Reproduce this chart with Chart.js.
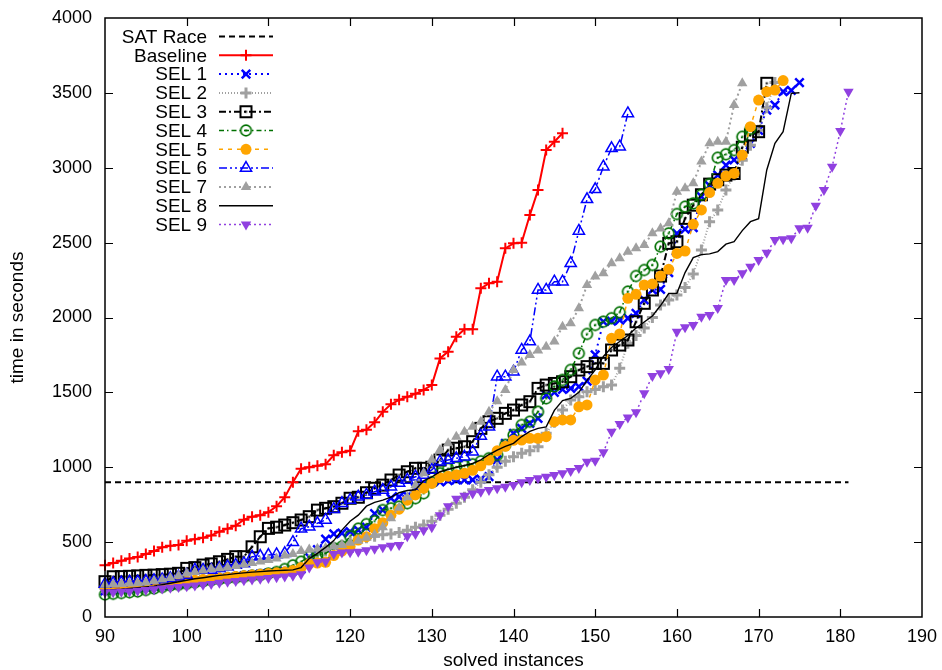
<!DOCTYPE html>
<html>
<head>
<meta charset="utf-8">
<script src="https://cdn.jsdelivr.net/npm/chart.js@4.4.0/dist/chart.umd.min.js"></script>
<style>
  html, body { margin: 0; padding: 0; background: #fff; }
  #wrap { width: 942px; height: 670px; }
</style>
</head>
<body>
<div id="wrap"><canvas id="solvedChart" width="942" height="670"></canvas></div>
<script>
(function () {
  // every series is indexed by solved instances, starting at 90
  const firstSolved = 90;
  const xRange = [90, 190];
  const xStep = 10;
  const yRange = [0, 4000];
  const yStep = 500;

  const satRaceLimit = 900;
  const satRaceSpan = [90, 181];

  const baseline = [345, 360, 375, 390, 400, 420, 440, 465, 475, 480,
    510, 520, 530, 545, 570, 590, 610, 650, 670, 680,
    700, 740, 800, 900, 990, 1000, 1010, 1020, 1080, 1100,
    1110, 1240, 1250, 1300, 1370, 1420, 1450, 1470, 1490, 1516,
    1549, 1727, 1772, 1872, 1921, 1921, 2195, 2228, 2239, 2462,
    2495, 2500, 2684, 2851, 3118, 3174, 3230];

  const sel1 = [175, 180, 185, 190, 195, 200, 205, 210, 215, 222,
    230, 238, 245, 250, 256, 262, 268, 275, 280, 287,
    293, 300, 305, 310, 320, 400, 450, 520, 555, 560,
    570, 580, 600, 690, 714, 793, 803, 810, 860, 893,
    900, 903, 910, 915, 915, 915, 920, 937, 1050, 1160,
    1227, 1260, 1293, 1327, 1483, 1500, 1520, 1527, 1538, 1575,
    1750, 1972, 1975, 1983, 1995, 2028, 2117, 2184, 2188, 2300,
    2562, 2590, 2600, 2807, 2880, 2951, 3018, 3052, 3085, 3163,
    3250, 3385, 3419, 3508, 3516, 3569];

  const sel2 = [190, 195, 200, 205, 210, 215, 220, 225, 230, 235,
    240, 245, 250, 255, 260, 265, 270, 275, 280, 285,
    290, 297, 303, 310, 330, 380, 420, 440, 460, 480,
    500, 520, 530, 540, 550, 555, 565, 580, 600, 614,
    640, 680, 720, 760, 800, 850, 900, 950, 1000, 1040,
    1070, 1093, 1110, 1137, 1227, 1300, 1382, 1449, 1470, 1505,
    1520, 1538, 1549, 1661, 1828, 1880, 1930, 2000, 2084, 2117,
    2150, 2200, 2290, 2451, 2640, 2718, 2851, 2950, 3050, 3150,
    3250, 3400, 3569];

  const sel3 = [236, 269, 270, 272, 275, 278, 280, 283, 286, 292,
    325, 330, 347, 355, 369, 385, 403, 403, 469, 536,
    592, 600, 614, 630, 648, 670, 714, 726, 737, 760,
    793, 800, 830, 860, 881, 915, 948, 970, 993, 993,
    1000, 1048, 1115, 1127, 1137, 1171, 1260, 1304, 1327, 1360,
    1382, 1416, 1438, 1527, 1549, 1560, 1571, 1605, 1649, 1672,
    1694, 1694, 1783, 1816, 1850, 1972, 2095, 2184, 2277, 2495,
    2506, 2662, 2750, 2820, 2891, 2920, 2951, 2962, 3137, 3219,
    3241, 3564];

  const sel4 = [150, 155, 160, 165, 170, 180, 190, 200, 210, 215,
    222, 230, 238, 245, 252, 258, 262, 268, 275, 280,
    290, 300, 320, 345, 369, 403, 414, 425, 459, 470,
    540, 590, 620, 640, 714, 726, 737, 760, 793, 826,
    900, 960, 990, 1000, 1010, 1020, 1040, 1060, 1082, 1149,
    1215, 1282, 1304, 1371, 1460, 1540, 1583, 1650, 1761, 1890,
    1950, 1972, 1995, 2035, 2173, 2277, 2317, 2351, 2473, 2562,
    2691, 2740, 2762, 2820, 2891, 3067, 3090, 3118, 3207, 3260];

  const sel5 = [200, 205, 210, 212, 215, 218, 222, 226, 230, 235,
    240, 245, 250, 255, 260, 265, 270, 275, 280, 285,
    290, 295, 300, 310, 330, 355, 360, 365, 410, 440,
    470, 514, 536, 590, 630, 680, 720, 780, 815, 859,
    893, 930, 940, 950, 960, 980, 1010, 1048, 1110, 1140,
    1180, 1182, 1193, 1193, 1204, 1304, 1316, 1316, 1404, 1416,
    1583, 1616, 1861, 1890, 2128, 2155, 2217, 2224, 2277, 2322,
    2428, 2444, 2622, 2718, 2834, 2896, 2945, 2962, 3085, 3274,
    3452, 3508, 3519, 3582];

  const sel6 = [220, 225, 230, 236, 236, 240, 245, 250, 258, 268,
    280, 314, 314, 314, 325, 336, 347, 358, 403, 407,
    414, 418, 425, 500, 590, 603, 626, 648, 720, 760,
    781, 803, 815, 837, 848, 870, 895, 915, 937, 948,
    982, 1037, 1048, 1060, 1070, 1104, 1209, 1271, 1605, 1605,
    1638, 1783, 1839, 2184, 2184, 2239, 2239, 2362, 2578, 2789,
    2856, 3007, 3130, 3141, 3363];

  const sel7 = [215, 218, 220, 223, 226, 230, 240, 250, 260, 275,
    290, 300, 310, 320, 325, 330, 340, 350, 360, 370,
    380, 390, 410, 420, 440, 450, 455, 460, 470, 480,
    495, 510, 530, 550, 600, 660, 730, 800, 880, 960,
    1050, 1115, 1160, 1204, 1237, 1271, 1304, 1371, 1440, 1516,
    1649, 1700, 1750, 1780, 1805, 1839, 1939, 1961, 2061, 2217,
    2273, 2295, 2362, 2395, 2439, 2462, 2484, 2562, 2595, 2629,
    2840, 2863, 2896, 3041, 3163, 3174, 3174, 3419, 3564];

  const sel8 = [180, 182, 185, 190, 195, 200, 205, 215, 225, 235,
    245, 255, 262, 270, 278, 283, 290, 295, 300, 303,
    307, 310, 312, 315, 330, 390, 425, 465, 510, 580,
    640, 680, 740, 765, 780, 800, 830, 845, 850, 910,
    935, 970, 985, 1000, 1012, 1025, 1050, 1085, 1115, 1140,
    1160, 1205, 1240, 1260, 1270, 1380, 1445, 1460, 1500, 1580,
    1650, 1740, 1800, 1840, 1880, 1930, 1970, 2010, 2080, 2160,
    2162, 2300, 2400, 2420, 2425, 2440, 2490, 2506, 2580, 2640,
    2660, 2985, 3163, 3241, 3497, 3501];

  const sel9 = [165, 165, 168, 170, 175, 180, 185, 190, 195, 200,
    205, 210, 215, 220, 228, 235, 240, 245, 250, 255,
    260, 265, 270, 275, 285, 330, 365, 370, 420, 430,
    432, 435, 445, 455, 465, 475, 480, 540, 555, 580,
    600, 680, 740, 790, 810, 825, 837, 848, 859, 870,
    881, 900, 915, 926, 937, 948, 960, 975, 995, 1037,
    1044, 1100, 1237, 1289, 1333, 1367, 1494, 1609, 1627, 1656,
    1905, 1935, 1950, 2005, 2017, 2063, 2250, 2250, 2295, 2339,
    2384, 2433, 2518, 2522, 2529, 2596, 2600, 2747, 2852, 3007,
    3245, 3508];

  const FONT = '"Liberation Sans", Arial, sans-serif';

  function toPoints(values) {
    return values.map((v, i) => ({ x: firstSolved + i, y: v }));
  }

  // gnuplot-like open markers with a centre dot
  function squareDot(color) {
    const c = document.createElement('canvas');
    c.width = 15; c.height = 15;
    const g = c.getContext('2d');
    g.strokeStyle = color; g.lineWidth = 2;
    g.strokeRect(2, 2, 11, 11);
    g.fillStyle = color; g.fillRect(6.5, 6.5, 2, 2);
    return c;
  }
  function circleDot(color) {
    const c = document.createElement('canvas');
    c.width = 15; c.height = 15;
    const g = c.getContext('2d');
    g.strokeStyle = color; g.lineWidth = 1.7;
    g.beginPath(); g.arc(7.5, 7.5, 5.3, 0, Math.PI * 2); g.stroke();
    g.fillStyle = color; g.fillRect(6.5, 6.5, 2, 2);
    return c;
  }

  function line(label, data, style) {
    return Object.assign({
      label: label, data: data, tension: 0, fill: false, clip: false,
      pointRadius: 0, pointHoverRadius: 0, pointBorderWidth: 0,
      pointBackgroundColor: 'rgba(0,0,0,0)', borderDash: []
    }, style);
  }

  const datasets = [
    line('SAT Race', [{ x: satRaceSpan[0], y: satRaceLimit }, { x: satRaceSpan[1], y: satRaceLimit }],
      { borderColor: '#000', borderWidth: 2, borderDash: [6, 4] }),
    line('Baseline', toPoints(baseline),
      { borderColor: '#ff0000', borderWidth: 2, pointStyle: 'cross', pointRadius: 5.5, pointBorderWidth: 2, pointBorderColor: '#ff0000' }),
    line('SEL 1', toPoints(sel1),
      { borderColor: '#0000ff', borderWidth: 2, borderDash: [2, 4], pointStyle: 'crossRot', pointRadius: 6, pointBorderWidth: 2.5, pointBorderColor: '#0000ff' }),
    line('SEL 2', toPoints(sel2),
      { borderColor: '#a0a0a0', borderWidth: 2, borderDash: [1, 2], pointStyle: 'cross', pointRadius: 5.5, pointBorderWidth: 3, pointBorderColor: '#a0a0a0' }),
    line('SEL 3', toPoints(sel3),
      { borderColor: '#000', borderWidth: 2, borderDash: [7, 3, 2, 3], pointStyle: squareDot('#000'), pointRadius: 6 }),
    line('SEL 4', toPoints(sel4),
      { borderColor: '#007000', borderWidth: 1.5, borderDash: [5, 3, 1.5, 3], pointStyle: circleDot('#007000'), pointRadius: 6 }),
    line('SEL 5', toPoints(sel5),
      { borderColor: '#ffa500', borderWidth: 1.5, borderDash: [4, 5], pointStyle: 'circle', pointRadius: 5.5, pointBackgroundColor: '#ffa500', pointBorderColor: '#ffa500' }),
    line('SEL 6', toPoints(sel6),
      { borderColor: '#0000ff', borderWidth: 1.5, borderDash: [8, 3, 2, 3, 2, 3], pointStyle: 'triangle', pointRadius: 6.5, pointBorderWidth: 1.5, pointBorderColor: '#0000ff' }),
    line('SEL 7', toPoints(sel7),
      { borderColor: '#a0a0a0', borderWidth: 2, borderDash: [2, 3], pointStyle: 'triangle', pointRadius: 6, pointBackgroundColor: '#a0a0a0', pointBorderColor: '#a0a0a0' }),
    line('SEL 8', toPoints(sel8),
      { borderColor: '#000', borderWidth: 1.4 }),
    line('SEL 9', toPoints(sel9),
      { borderColor: '#9040e0', borderWidth: 1.5, borderDash: [2, 3], pointStyle: 'triangle', pointRotation: 180, pointRadius: 6, pointBackgroundColor: '#9040e0', pointBorderColor: '#9040e0' })
  ];
  // later plots go on top, like gnuplot
  datasets.forEach((ds, i) => { ds.order = -i; });

  // box border with inward ticks on all four sides
  const frame = {
    id: 'frame',
    afterDatasetsDraw(chart) {
      const { ctx, chartArea: a, scales } = chart;
      ctx.save();
      ctx.strokeStyle = '#000';
      ctx.lineWidth = 1.5;
      ctx.setLineDash([]);
      ctx.strokeRect(a.left, a.top, a.right - a.left, a.bottom - a.top);
      const tl = 8;
      ctx.beginPath();
      for (let v = xRange[0] + xStep; v < xRange[1]; v += xStep) {
        const px = Math.round(scales.x.getPixelForValue(v)) + 0.5;
        ctx.moveTo(px, a.bottom); ctx.lineTo(px, a.bottom - tl);
        ctx.moveTo(px, a.top); ctx.lineTo(px, a.top + tl);
      }
      for (let v = yRange[0] + yStep; v < yRange[1]; v += yStep) {
        const py = Math.round(scales.y.getPixelForValue(v)) + 0.5;
        ctx.moveTo(a.left, py); ctx.lineTo(a.left + tl, py);
        ctx.moveTo(a.right, py); ctx.lineTo(a.right - tl, py);
      }
      ctx.lineWidth = 1.2;
      ctx.stroke();
      ctx.restore();
    }
  };

  // key in the top-left corner: right-aligned labels, sample line, marker
  const key = {
    id: 'key',
    afterDraw(chart) {
      const ctx = chart.ctx;
      const drawPoint = Chart.helpers && Chart.helpers.drawPoint;
      ctx.save();
      ctx.font = '19px ' + FONT;
      ctx.textAlign = 'right';
      ctx.textBaseline = 'middle';
      chart.data.datasets.forEach((ds, i) => {
        const y = 36.5 + i * 18.8;
        ctx.fillStyle = '#000';
        ctx.fillText(ds.label, 207, y + 1);
        ctx.strokeStyle = ds.borderColor;
        ctx.lineWidth = ds.borderWidth;
        ctx.setLineDash(ds.borderDash || []);
        ctx.beginPath(); ctx.moveTo(219, y); ctx.lineTo(273, y); ctx.stroke();
        ctx.setLineDash([]);
        if (ds.pointRadius > 0 && drawPoint) {
          ctx.fillStyle = ds.pointBackgroundColor;
          ctx.strokeStyle = ds.pointBorderColor || ds.borderColor;
          ctx.lineWidth = ds.pointBorderWidth;
          drawPoint(ctx, { pointStyle: ds.pointStyle, rotation: ds.pointRotation || 0, radius: ds.pointRadius, borderWidth: ds.pointBorderWidth }, 246, y);
        }
      });
      ctx.restore();
    }
  };

  Chart.defaults.font.family = FONT;
  Chart.defaults.font.size = 18;
  Chart.defaults.color = '#000';

  new Chart(document.getElementById('solvedChart'), {
    type: 'line',
    data: { datasets: datasets },
    options: {
      responsive: false, animation: false, devicePixelRatio: 1,
      layout: { padding: { top: 18, right: 20, left: 0, bottom: 0 } },
      plugins: { legend: { display: false }, tooltip: { enabled: false } },
      events: [],
      scales: {
        x: {
          type: 'linear', min: xRange[0], max: xRange[1],
          grid: { display: false, drawTicks: false }, border: { display: false },
          ticks: { stepSize: xStep, padding: 9, maxRotation: 0, font: { size: 18 },
            callback: (v) => String(v) },
          title: { display: true, text: 'solved instances', font: { size: 19, lineHeight: 1 }, padding: 0 },
          afterFit(s) { s.height = 53; s.paddingLeft = 0; s.paddingRight = 0; }
        },
        y: {
          type: 'linear', min: yRange[0], max: yRange[1],
          grid: { display: false, drawTicks: false }, border: { display: false },
          ticks: { stepSize: yStep, padding: 13, font: { size: 18 },
            callback: (v) => String(v) },
          title: { display: true, text: 'time in seconds', font: { size: 19, lineHeight: 1 }, padding: { top: 8 } },
          afterFit(s) { s.width = 105; s.paddingTop = 0; s.paddingBottom = 0; }
        }
      }
    },
    plugins: [frame, key]
  });
})();
</script>
</body>
</html>
